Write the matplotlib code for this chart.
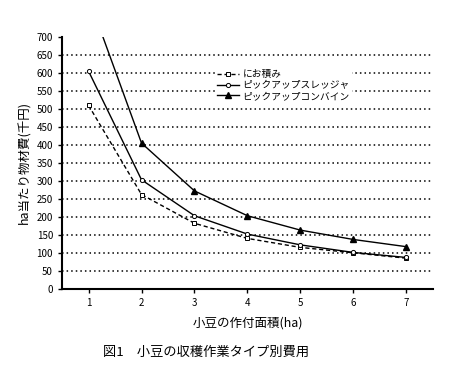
import numpy as np
import matplotlib
matplotlib.use('Agg')
import matplotlib.pyplot as plt

plt.rcParams['font.family'] = ['Noto Sans CJK JP', 'DejaVu Sans']

# data
area = [1, 2, 3, 4, 5, 6, 7]
nio = [510, 262, 182, 140, 115, 100, 85]
sledge = [605, 303, 203, 152, 122, 101, 87]
combine = [810, 405, 272, 203, 163, 137, 117]
labels = ['にお積み', 'ピックアップスレッジャ', 'ピックアップコンバイン']
yticks = np.arange(0, 701, 50)

fig = plt.figure(figsize=(4.7, 3.77), dpi=100)
ax = fig.add_axes([0.132, 0.234, 0.789, 0.668])

# dotted guide lines (none at the top)
ax.hlines(yticks[1:-1], 0.5, 7.5, colors='k', linestyles=(0, (1, 2)), linewidth=1.1, zorder=1)

ax.plot(area, nio, 'k', linestyle=(0, (3, 2)), marker='s', markersize=3,
        markerfacecolor='white', markeredgewidth=0.7, linewidth=1.0,
        label=labels[0], zorder=3)
ax.plot(area, sledge, 'k-', marker='o', markersize=3, markerfacecolor='white',
        markeredgewidth=0.7, linewidth=1.0, label=labels[1], zorder=3)
ax.plot(area, combine, 'k-', marker='^', markersize=5, linewidth=1.0,
        label=labels[2], zorder=3)

ax.set_xlim(0.5, 7.5)
ax.set_ylim(0, 700)
ax.set_xticks(area)
ax.set_yticks(yticks)
ax.tick_params(labelsize=7, length=3, width=1)
ax.spines['top'].set_visible(False)
ax.spines['right'].set_visible(False)
ax.spines['left'].set_linewidth(1.5)
ax.spines['bottom'].set_linewidth(1.5)

ax.set_xlabel('小豆の作付面積(ha)', fontsize=9, labelpad=6)
ax.set_ylabel('ha当たり物材費(千円)', fontsize=9, labelpad=4)

leg = ax.legend(loc='upper left', bbox_to_anchor=(0.40, 0.9), fontsize=7,
                frameon=True, edgecolor='none', framealpha=1, fancybox=False,
                handlelength=2.2, handletextpad=0.4, labelspacing=0.1,
                borderpad=0.2)

fig.text(0.22, 0.065, '図1　小豆の収穫作業タイプ別費用', fontsize=9.5, ha='left', va='center')

fig.savefig('out.png', dpi=100)
